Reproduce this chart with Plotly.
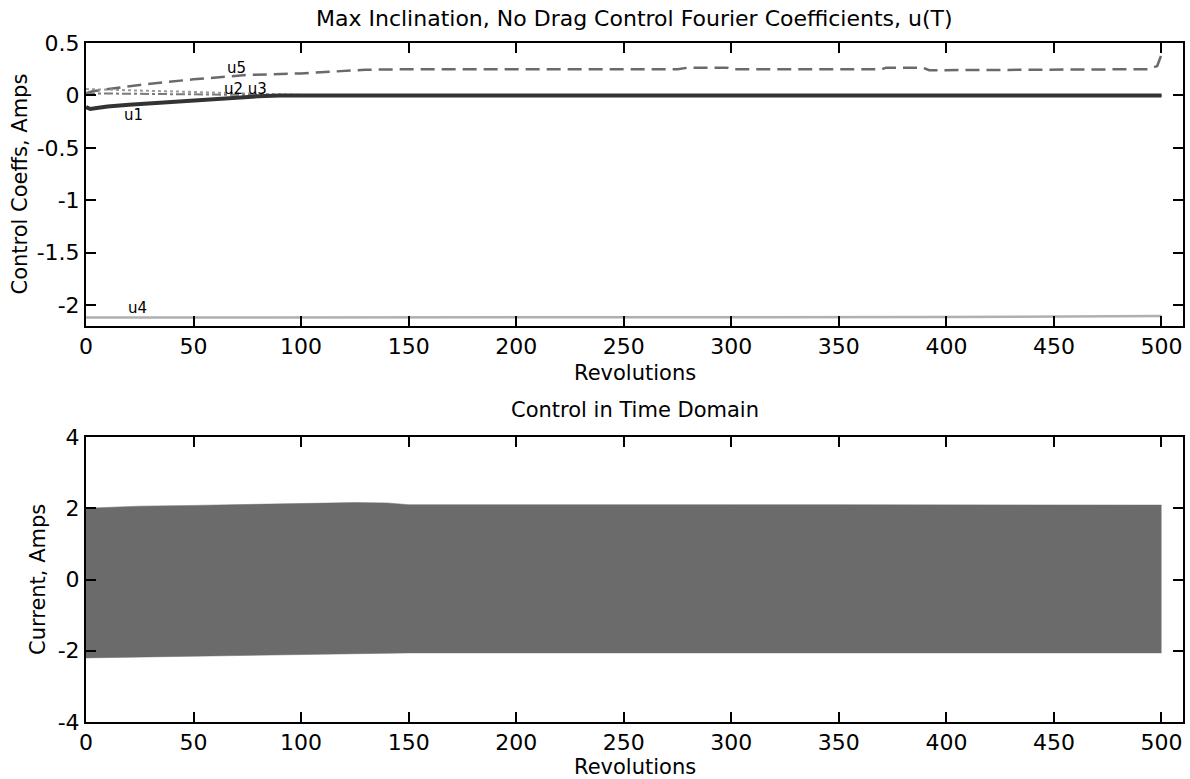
import plotly.graph_objects as go
from plotly.subplots import make_subplots

# ---- Top panel: Fourier coefficients ----
u1_rev = [0, 2, 5, 10, 20, 30, 40, 50, 60, 70, 80, 90, 100, 500]
u1_val = [-0.11, -0.13, -0.12, -0.105, -0.09, -0.075, -0.06, -0.045, -0.03, -0.018, -0.008, -0.002, 0.0, 0.0]

u2_rev = [0, 20, 50, 80, 100, 500]
u2_val = [0.02, 0.015, 0.01, 0.003, 0.0, 0.0]

u3_rev = [0, 20, 40, 60, 80, 100, 130, 500]
u3_val = [0.06, 0.05, 0.04, 0.03, 0.015, 0.005, 0.0, 0.0]

u4_rev = [0, 300, 400, 500]
u4_val = [-2.12, -2.12, -2.115, -2.105]

u5_rev = [0, 3, 25, 50, 75, 100, 130, 150, 275, 280, 298, 300, 370, 372, 389, 392, 494, 498, 500]
u5_val = [0.02, 0.04, 0.10, 0.154, 0.195, 0.21, 0.245, 0.25, 0.25, 0.265, 0.265, 0.25, 0.25, 0.265, 0.265, 0.24, 0.25, 0.28, 0.39]

labels_text = ["u1", "u2 u3", "u5", "u4"]
labels_rev = [22, 74, 70, 24]
labels_val = [-0.19, 0.065, 0.26, -2.03]

# ---- Bottom panel: envelope of time-domain control current ----
env_rev = [0, 10, 25, 50, 75, 100, 125, 140, 150, 200, 250, 300, 350, 400, 450, 500]
env_upper = [2.0, 2.03, 2.06, 2.08, 2.1, 2.13, 2.16, 2.15, 2.1, 2.1, 2.09, 2.1, 2.1, 2.1, 2.1, 2.09]
env_lower = [-2.2, -2.19, -2.17, -2.15, -2.12, -2.1, -2.08, -2.07, -2.06, -2.06, -2.06, -2.06, -2.06, -2.06, -2.06, -2.06]

x_ticks = [0, 50, 100, 150, 200, 250, 300, 350, 400, 450, 500]
top_yticks = [0.5, 0, -0.5, -1, -1.5, -2]
top_yticktext = ["0.5", "0", "-0.5", "-1", "-1.5", "-2"]
bot_yticks = [4, 2, 0, -2, -4]
bot_yticktext = ["4", "2", "0", "-2", "-4"]

FONT = "DejaVu Sans"
TICK = 22
TXT = 21

fig = make_subplots(rows=2, cols=1, vertical_spacing=0.1636)

fig.add_trace(go.Scatter(x=u4_rev, y=u4_val, mode="lines", line=dict(color="#b0b0b0", width=2.5), name="u4"), row=1, col=1)
fig.add_trace(go.Scatter(x=u5_rev, y=u5_val, mode="lines", line=dict(color="#6a6a6a", width=2.5, dash="14px,7px"), name="u5"), row=1, col=1)
fig.add_trace(go.Scatter(x=u3_rev, y=u3_val, mode="lines", line=dict(color="#9a9a9a", width=2, dash="dot"), name="u3"), row=1, col=1)
fig.add_trace(go.Scatter(x=u2_rev, y=u2_val, mode="lines", line=dict(color="#7a7a7a", width=2, dash="dashdot"), name="u2"), row=1, col=1)
fig.add_trace(go.Scatter(x=u1_rev, y=u1_val, mode="lines", line=dict(color="#333333", width=4), name="u1"), row=1, col=1)

fig.add_trace(go.Scatter(x=env_rev, y=env_lower, mode="lines", line=dict(color="#6b6b6b", width=0.5), name="lower"), row=2, col=1)
fig.add_trace(go.Scatter(x=env_rev, y=env_upper, mode="lines", line=dict(color="#6b6b6b", width=0.5),
                         fill="tonexty", fillcolor="#6b6b6b", name="upper"), row=2, col=1)

for t, xr, yv in zip(labels_text, labels_rev, labels_val):
    fig.add_annotation(x=xr, y=yv, xref="x", yref="y", text=t, showarrow=False,
                       font=dict(family=FONT, size=15, color="black"))

axis_common = dict(showgrid=False, zeroline=False, showline=True, linecolor="black", linewidth=2,
                   mirror="ticks", ticks="inside", ticklen=10, tickwidth=2, tickcolor="black",
                   automargin=False, tickfont=dict(family=FONT, size=TICK, color="black"))

fig.update_xaxes(range=[0, 510], tickvals=x_ticks, **axis_common)
fig.update_yaxes(range=[-2.2, 0.5], tickvals=top_yticks, ticktext=top_yticktext, row=1, col=1, **axis_common)
fig.update_yaxes(range=[-4, 4], tickvals=bot_yticks, ticktext=bot_yticktext, row=2, col=1, **axis_common)

def txt(text, x, y, xshift=0, angle=0, size=TXT):
    fig.add_annotation(text=text, xref="paper", yref="paper", x=x, y=y, xshift=xshift,
                       xanchor="center", yanchor="middle", textangle=angle, showarrow=False,
                       font=dict(family=FONT, size=size, color="black"))

txt("Max Inclination, No Drag Control Fourier Coefficients, u(T)", 0.5, 1.0368, size=22)
txt("Control in Time Domain", 0.5, 0.4595)
txt("Revolutions", 0.5, 0.514)
txt("Revolutions", 0.5, -0.0663)
txt("Control Coeffs, Amps", 0.0, 0.7916, xshift=-66, angle=-90)
txt("Current, Amps", 0.0, 0.2091, xshift=-48, angle=-90)

fig.update_layout(width=1190, height=779, margin=dict(l=86, r=7, t=43, b=57),
                  paper_bgcolor="white", plot_bgcolor="white", showlegend=False,
                  font=dict(family=FONT, color="black"))
fig.update_layout(yaxis=dict(domain=[0.5832, 1.0]), yaxis2=dict(domain=[0.0, 0.4197]))

fig.write_html("out.html", config={"displayModeBar": False},
               post_script="document.body.style.margin='0';document.body.style.overflow='hidden';")
